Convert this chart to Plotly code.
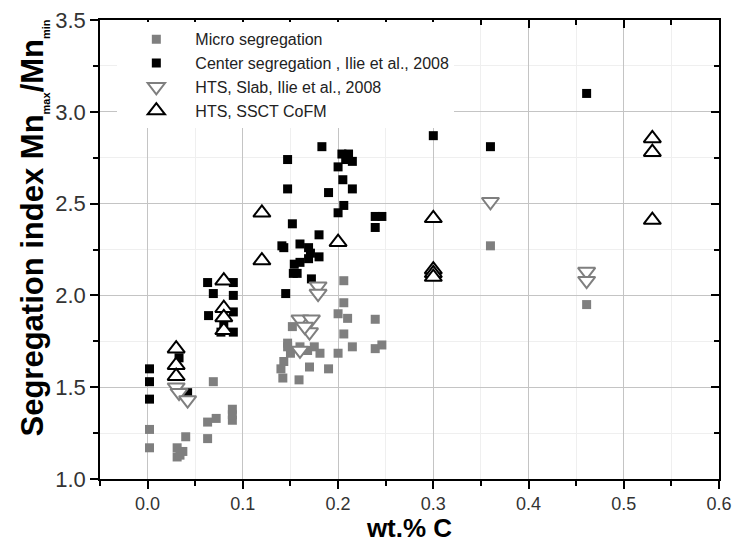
import plotly.graph_objects as go

# ---- data ----
micro_x = [0.002, 0.002, 0.031, 0.031, 0.037, 0.034, 0.040, 0.063, 0.063, 0.072, 0.069, 0.089, 0.089, 0.089,
           0.142, 0.143, 0.140, 0.147, 0.147, 0.150, 0.159, 0.152, 0.160, 0.168, 0.170, 0.175, 0.190, 0.181,
           0.200, 0.200, 0.206, 0.206, 0.210, 0.206, 0.215, 0.239, 0.239, 0.246, 0.360, 0.461]
micro_y = [1.27, 1.17, 1.17, 1.12, 1.15, 1.13, 1.23, 1.22, 1.31, 1.33, 1.53, 1.38, 1.32, 1.35,
           1.55, 1.64, 1.60, 1.72, 1.74, 1.685, 1.54, 1.83, 1.72, 1.70, 1.61, 1.72, 1.60, 1.685,
           1.685, 1.90, 1.96, 2.08, 1.875, 1.79, 1.72, 1.87, 1.71, 1.73, 2.27, 1.95]

center_x = [0.002, 0.002, 0.002, 0.033, 0.042,
            0.063, 0.069, 0.090, 0.090, 0.064, 0.090, 0.077, 0.090, 0.080,
            0.183, 0.147, 0.204, 0.211, 0.215, 0.208, 0.200, 0.205, 0.215, 0.190, 0.147, 0.206, 0.200,
            0.239, 0.246, 0.239, 0.152, 0.180, 0.141, 0.143, 0.160, 0.169, 0.171, 0.180, 0.169,
            0.154, 0.160, 0.153, 0.157, 0.172, 0.145, 0.300, 0.360, 0.461]
center_y = [1.60, 1.53, 1.435, 1.66, 1.47,
            2.07, 2.01, 2.07, 2.00, 1.89, 1.91, 1.80, 1.80, 1.85,
            2.81, 2.74, 2.77, 2.77, 2.73, 2.74, 2.70, 2.63, 2.58, 2.56, 2.58, 2.49, 2.45,
            2.43, 2.43, 2.37, 2.39, 2.33, 2.27, 2.26, 2.28, 2.26, 2.23, 2.21, 2.20,
            2.17, 2.18, 2.12, 2.12, 2.09, 2.01, 2.87, 2.81, 3.10]

slab_x = [0.030, 0.033, 0.042, 0.179, 0.179, 0.160, 0.172, 0.170, 0.165, 0.160, 0.360, 0.461, 0.461]
slab_y = [1.50, 1.47, 1.43, 2.05, 2.01, 1.87, 1.87, 1.80, 1.83, 1.70, 2.51, 2.13, 2.08]

ssct_x = [0.030, 0.030, 0.030, 0.080, 0.080, 0.080, 0.080, 0.120, 0.120, 0.200,
          0.300, 0.300, 0.300, 0.300, 0.530, 0.530, 0.530]
ssct_y = [1.71, 1.62, 1.56, 2.08, 1.93, 1.88, 1.81, 2.45, 2.19, 2.29,
          2.42, 2.14, 2.12, 2.10, 2.855, 2.78, 2.41]

names = ["Micro segregation", "Center segregation , Ilie et al., 2008",
         "HTS, Slab, Ilie et al., 2008", "HTS, SSCT CoFM"]

GRAY = "#7f7f7f"
FONT = "Arial, Liberation Sans, sans-serif"

fig = go.Figure()
fig.add_trace(go.Scatter(x=micro_x, y=micro_y, mode="markers", name=names[0],
                         marker=dict(symbol="square", size=9, color=GRAY, line=dict(width=0))))
fig.add_trace(go.Scatter(x=center_x, y=center_y, mode="markers", name=names[1],
                         marker=dict(symbol="square", size=9, color="black", line=dict(width=0))))
fig.add_trace(go.Scatter(x=slab_x, y=slab_y, mode="markers", name=names[2],
                         marker=dict(symbol="triangle-down", size=15, color="white",
                                     line=dict(color=GRAY, width=2))))
fig.add_trace(go.Scatter(x=ssct_x, y=ssct_y, mode="markers", name=names[3],
                         marker=dict(symbol="triangle-up", size=15, color="white",
                                     line=dict(color="black", width=2))))
# dummy trace to activate the mirrored (top/right) axes
fig.add_trace(go.Scatter(x=[None], y=[None], xaxis="x2", yaxis="y2", showlegend=False,
                         hoverinfo="skip"))

xr = [-0.05, 0.6]
yr = [1.0, 3.5]

ytitle = ("&nbsp;&nbsp;&nbsp;&nbsp;&nbsp;<b>Segregation index Mn"
          "<sub><span style='font-size:11px'>max</span></sub>/Mn"
          "<sub><span style='font-size:11px'>min</span></sub></b>")

fig.update_layout(
    width=734, height=543,
    margin=dict(l=100, r=15, t=20, b=64, autoexpand=False),
    paper_bgcolor="white", plot_bgcolor="white",
    font=dict(family=FONT, color="#222"),
    showlegend=True,
    legend=dict(x=0.028, y=0.995, xanchor="left", yanchor="top", itemwidth=68,
                bgcolor="white", borderwidth=0,
                font=dict(size=16, family=FONT, color="#222")),
    xaxis=dict(range=xr, dtick=0.1, tick0=0, tickformat=".1f", automargin=False,
               showline=True, linecolor="black", linewidth=1.5,
               ticks="outside", ticklen=8, tickwidth=1.5, tickcolor="black",
               showgrid=True, gridcolor="#c4c4c4", gridwidth=1, zeroline=False,
               tickfont=dict(size=18, color="#333"),
               minor=dict(dtick=0.05, tick0=0, ticks="outside", ticklen=5, tickwidth=1.5,
                          tickcolor="black", showgrid=True, gridcolor="#efefef"),
               title=dict(text="<b>wt.% C</b>", font=dict(size=26, color="black"), standoff=10)),
    yaxis=dict(range=yr, dtick=0.5, tick0=1, tickformat=".1f", automargin=False,
               showline=True, linecolor="black", linewidth=1.5,
               ticks="outside", ticklen=8, tickwidth=1.5, tickcolor="black",
               showgrid=True, gridcolor="#c4c4c4", gridwidth=1, zeroline=False,
               tickfont=dict(size=22, color="#333"),
               minor=dict(dtick=0.25, tick0=1, ticks="outside", ticklen=5, tickwidth=1.5,
                          tickcolor="black", showgrid=True, gridcolor="#efefef"),
               title=dict(text=ytitle, font=dict(size=31, color="black"), standoff=2)),
    xaxis2=dict(range=xr, overlaying="x", side="top", matches="x", dtick=0.1, tick0=0,
                automargin=False,
                showline=True, linecolor="black", linewidth=1.5, showticklabels=False,
                ticks="inside", ticklen=8, tickwidth=1.5, tickcolor="black",
                showgrid=False, zeroline=False,
                minor=dict(dtick=0.05, tick0=0, ticks="inside", ticklen=5, tickwidth=1.5,
                           tickcolor="black", showgrid=False)),
    yaxis2=dict(range=yr, overlaying="y", side="right", matches="y", dtick=0.5, tick0=1,
                automargin=False,
                showline=True, linecolor="black", linewidth=1.5, showticklabels=False,
                ticks="inside", ticklen=8, tickwidth=1.5, tickcolor="black",
                showgrid=False, zeroline=False,
                minor=dict(dtick=0.25, tick0=1, ticks="inside", ticklen=5, tickwidth=1.5,
                           tickcolor="black", showgrid=False)),
)

fig.write_html("out.html")
